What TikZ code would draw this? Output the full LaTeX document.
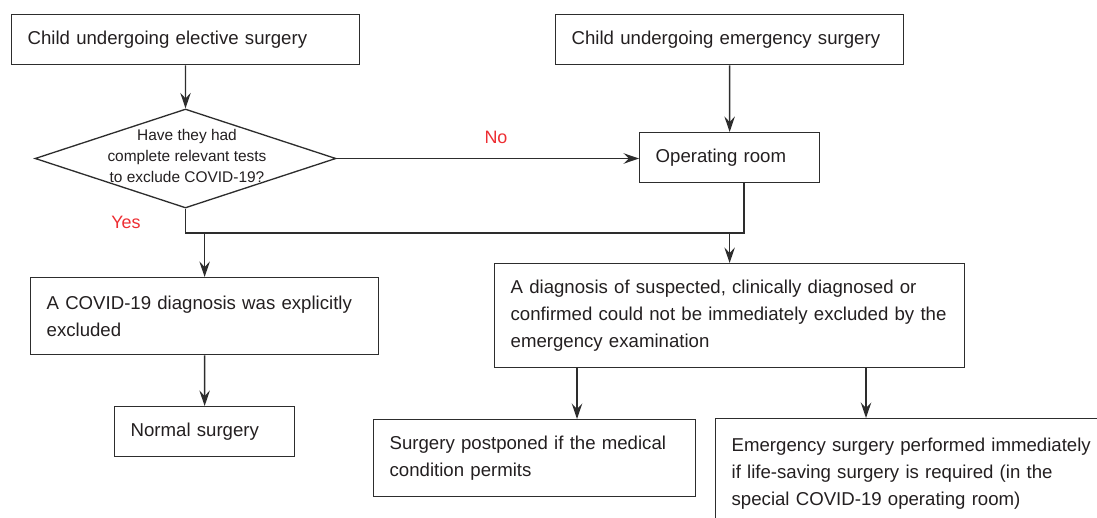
\documentclass[tikz,border=0pt]{standalone}
\usepackage{fontspec}
\setmainfont{Liberation Sans}
\usepackage{tikz}
\usetikzlibrary{arrows.meta,shapes.geometric}
\definecolor{linegray}{RGB}{45,45,45}
\definecolor{textgray}{RGB}{35,31,32}
\definecolor{answerred}{RGB}{237,45,50}

\begin{document}
\begin{tikzpicture}[x=0.02cm, y=-0.02cm, line width=0.75pt, color=linegray,
      >={Stealth[length=0.31cm,width=0.21cm,inset=0.11cm]},
      every node/.append style={text=textgray,font=\fontsize{10.6}{15.6}\selectfont}]
    \tikzstyle{box} = [draw=linegray,rectangle,anchor=north west,inner xsep=0.32cm,inner ysep=0pt,align=left]
    \tikzstyle{test} = [draw=linegray,diamond,inner sep=0pt]
    \tikzstyle{answer} = [text=answerred,font=\fontsize{10.2}{12}\selectfont]
    \useasboundingbox (0,0) rectangle (1097,517);
    \clip (0,0) rectangle (1097,517);

    % top row
    \node [box,text width=6.32cm,minimum height=1cm] (elective) at (11,14) {Child undergoing elective surgery};
    \node [box,text width=6.32cm,minimum height=1cm] (emergency) at (555,14) {Child undergoing emergency surgery};

    % decision
    \node [test,minimum width=6.02cm,minimum height=1.98cm] (test) at (185.5,158.5) {};
    \node [align=center,inner sep=0pt,font=\fontsize{8.8}{11.9}\selectfont] (question) at (187,156)
      {Have they had\\complete relevant tests\\to exclude COVID-19?};
    \node [box,text width=2.96cm,minimum height=1cm] (or) at (639,132) {Operating room};
    \node [answer] (no) at (496,137) {No};
    \node [answer] (yes) at (126,222) {Yes};

    % outcomes
    \node [box,text width=6.32cm,minimum height=1.54cm] (excluded) at (30,277)
      {A COVID-19 diagnosis was explicitly\\excluded};
    \node [box,text width=8.76cm,minimum height=2.08cm] (suspected) at (494,263)
      {A diagnosis of suspected, clinically diagnosed or\\confirmed could not be immediately excluded by the\\emergency examination};
    \node [box,text width=2.96cm,minimum height=1cm] (normal) at (114,406) {Normal surgery};
    \node [box,text width=5.8cm,minimum height=1.54cm] (postponed) at (373,419)
      {Surgery postponed if the medical\\condition permits};
    \node [box,text width=7.36cm,minimum height=2.2cm] (immediate) at (715,418)
      {Emergency surgery performed immediately\\if life-saving surgery is required (in the\\special COVID-19 operating room)};

    \coordinate (bus) at (0,233);
    \coordinate (orleg) at (744,0);
    \coordinate (leftdrop) at (577,0);
    \coordinate (rightdrop) at (866,0);

    \draw [->] (elective) -- (test.north);
    \draw [->] (emergency) -- (or);
    \draw [->] (test.east) -- (test.east -| or.west);
    \draw (test.south) |- (bus -| orleg) -- (orleg |- or.south);
    \draw [->] (bus -| excluded.north) -- (excluded.north);
    \draw [->] (bus -| suspected.north) -- (suspected.north);
    \draw [->] (excluded) -- (normal);
    \draw [->] (leftdrop |- suspected.south) -- (leftdrop |- postponed.north);
    \draw [->] (rightdrop |- suspected.south) -- (rightdrop |- immediate.north);
\end{tikzpicture}
\end{document}
